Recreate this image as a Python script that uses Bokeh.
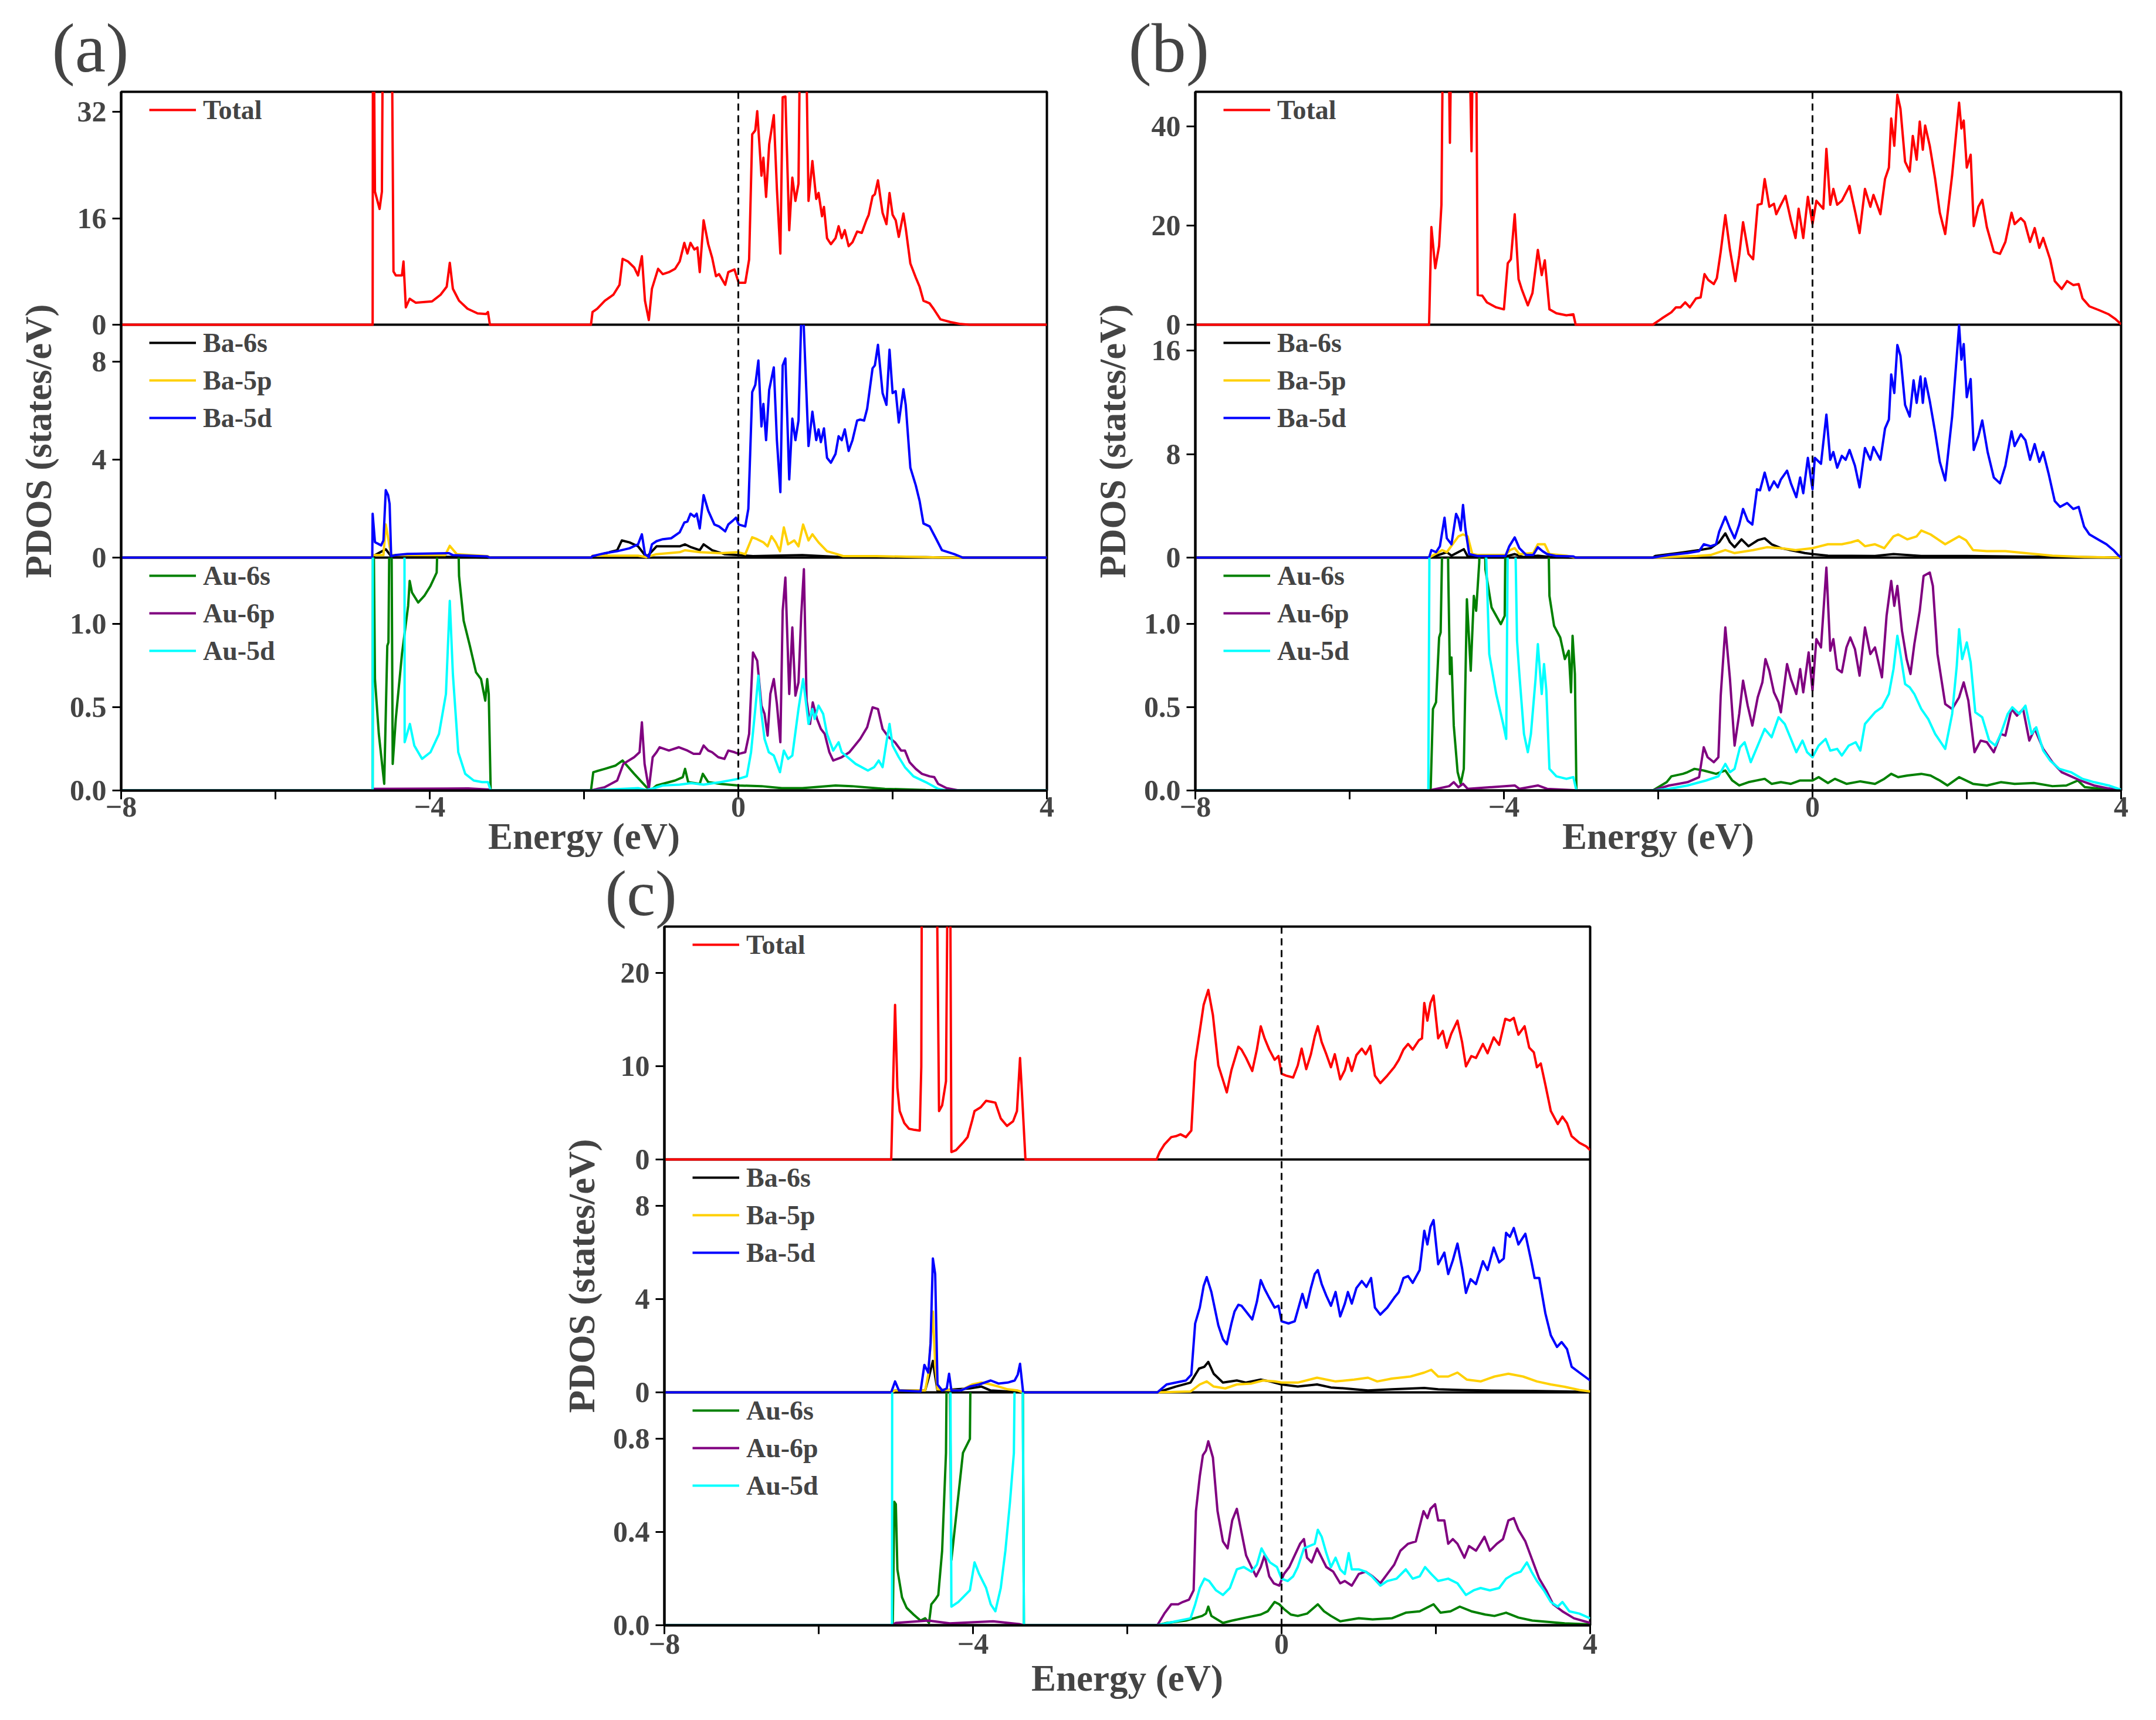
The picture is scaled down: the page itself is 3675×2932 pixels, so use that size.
import numpy as np
from bokeh.plotting import figure
from bokeh.models import Range1d, FixedTicker, Span, Legend, LegendItem
from bokeh.layouts import column, row
from bokeh.embed import file_html
from bokeh.resources import INLINE

# ---------------- data (energy in eV, PDOS in states/eV) ----------------
# panel (a)
A_TOTAL = [(-8,0),(-4.74,0),(-4.735,60),(-4.71,20),(-4.65,17.4),(-4.62,20),(-4.60,60),(-4.50,60),(-4.47,8.0),(-4.44,7.4),
 (-4.36,7.4),(-4.34,9.5),(-4.31,2.6),(-4.26,3.9),(-4.18,3.3),(-3.97,3.5),(-3.86,4.5),(-3.78,5.7),(-3.74,9.3),(-3.70,5.4),
 (-3.62,3.6),(-3.51,2.4),(-3.38,1.7),(-3.27,1.6),(-3.245,1.9),(-3.22,0),(-1.91,0),(-1.89,1.9),(-1.83,2.4),(-1.73,3.6),
 (-1.62,4.5),(-1.54,6.0),(-1.50,9.9),(-1.43,9.5),(-1.35,8.6),(-1.30,7.4),(-1.25,10.3),(-1.21,3.6),(-1.16,0.7),(-1.12,5.4),
 (-1.04,8.4),(-0.98,7.6),(-0.90,7.9),(-0.82,8.4),(-0.76,9.5),(-0.70,12.3),(-0.66,10.7),(-0.62,12.3),(-0.57,11.3),(-0.53,11.6),
 (-0.50,7.9),(-0.45,15.7),(-0.39,12.1),(-0.34,10.1),(-0.29,7.3),(-0.25,7.6),(-0.17,6.0),(-0.13,7.9),(-0.05,8.3),(0.005,6.3),
 (0.09,6.3),(0.14,9.8),(0.18,28.6),(0.22,29.2),(0.245,32.1),(0.30,22.4),(0.325,25.1),(0.36,19.2),(0.40,27.1),(0.46,31.5),
 (0.50,20.4),(0.545,10.7),(0.575,34.2),(0.61,34.3),(0.66,14.2),(0.70,22.1),(0.74,18.6),(0.78,21.2),(0.815,60),(0.855,60),
 (0.91,18.6),(0.96,24.6),(1.01,18.9),(1.04,19.8),(1.085,16.3),(1.11,17.7),(1.15,13.0),(1.20,12.1),(1.26,13.0),(1.30,14.8),
 (1.34,13.0),(1.38,14.2),(1.43,11.8),(1.48,12.4),(1.54,14.0),(1.60,13.8),(1.66,15.7),(1.69,16.5),(1.74,19.3),(1.77,19.6),
 (1.81,21.7),(1.87,16.8),(1.92,15.1),(1.96,19.8),(2.00,16.5),(2.04,15.7),(2.08,13.2),(2.14,16.7),(2.17,14.5),(2.23,9.2),
 (2.30,7.1),(2.35,5.7),(2.40,3.6),(2.48,3.2),(2.53,2.4),(2.62,0.8),(2.75,0.4),(2.88,0.1),(3.0,0),(4.0,0)]
A_BA6S = [(-8,0),(-4.745,0),(-4.71,0.1),(-4.57,0.34),(-4.50,0.05),(-3.5,0.02),(-3.22,0),(-1.91,0),(-1.89,0.02),(-1.67,0.22),
 (-1.57,0.3),(-1.51,0.7),(-1.41,0.62),(-1.30,0.46),(-1.19,0.02),(-1.06,0.46),(-0.98,0.46),(-0.76,0.46),(-0.69,0.54),(-0.61,0.42),
 (-0.50,0.3),(-0.45,0.54),(-0.34,0.3),(-0.18,0.14),(0,0.1),(0.19,0.06),(0.83,0.1),(1.36,0.02),(2.43,0.02),(2.7,0),(4,0)]
A_BA5P = [(-8,0),(-4.745,0),(-4.74,0.1),(-4.60,0.1),(-4.57,1.35),(-4.50,0.1),(-4.40,0.1),(-3.80,0.1),(-3.74,0.48),(-3.65,0.14),
 (-3.25,0.06),(-3.22,0),(-1.91,0),(-1.89,0.08),(-1.30,0.08),(-1.19,0.02),(-1.06,0.14),(-0.76,0.22),(-0.69,0.3),(-0.50,0.22),
 (-0.23,0.18),(0,0.22),(0.09,0.14),(0.18,0.83),(0.245,0.75),(0.325,0.62),(0.38,0.46),(0.43,0.87),(0.485,0.62),(0.54,0.26),
 (0.59,1.23),(0.645,0.54),(0.725,0.7),(0.78,0.46),(0.84,1.35),(0.91,0.7),(0.96,0.95),(1.04,0.62),(1.15,0.26),(1.28,0.14),
 (1.36,0.06),(1.79,0.06),(2.43,0.02),(2.70,0),(4,0)]
A_BA5D = [(-8,0),(-4.745,0),(-4.74,1.79),(-4.71,0.63),(-4.63,0.5),(-4.60,0.7),(-4.57,2.75),(-4.54,2.55),(-4.52,2.19),(-4.50,0.06),
 (-4.45,0.1),(-4.29,0.15),(-3.75,0.18),(-3.70,0.1),(-3.26,0.05),(-3.22,0),(-1.91,0),(-1.89,0.06),(-1.73,0.18),(-1.57,0.26),
 (-1.41,0.38),(-1.30,0.54),(-1.25,0.95),(-1.21,0.14),(-1.16,0.02),(-1.12,0.54),(-1.06,0.67),(-0.98,0.75),(-0.87,0.79),(-0.76,1.03),
 (-0.70,1.43),(-0.66,1.47),(-0.62,1.79),(-0.57,1.67),(-0.54,1.79),(-0.50,1.19),(-0.45,2.55),(-0.39,1.91),(-0.31,1.35),(-0.25,1.27),
 (-0.17,1.07),(-0.13,1.35),(-0.07,1.51),(-0.03,1.63),(0.005,1.35),(0.09,1.27),(0.13,1.99),(0.18,6.75),(0.22,7.04),(0.26,8.04),
 (0.30,5.35),(0.325,6.27),(0.36,4.79),(0.40,6.84),(0.46,7.76),(0.50,4.79),(0.545,2.67),(0.575,7.84),(0.61,8.12),(0.66,3.19),
 (0.70,5.67),(0.74,4.79),(0.78,5.59),(0.815,9.7),(0.845,9.7),(0.91,4.55),(0.96,5.95),(1.01,4.79),(1.04,5.23),(1.07,4.71),
 (1.11,5.27),(1.15,4.07),(1.20,3.87),(1.26,4.23),(1.30,4.95),(1.34,4.79),(1.38,5.23),(1.43,4.35),(1.48,4.79),(1.54,5.59),
 (1.58,5.63),(1.63,5.59),(1.67,6.07),(1.74,7.72),(1.77,7.84),(1.81,8.68),(1.87,6.71),(1.92,6.23),(1.96,8.48),(2.00,6.71),
 (2.04,6.79),(2.08,5.51),(2.14,6.87),(2.17,6.23),(2.23,3.67),(2.30,2.95),(2.35,2.31),(2.40,1.39),(2.48,1.27),(2.56,0.79),
 (2.64,0.3),(2.80,0.14),(2.91,0),(4,0)]
A_AU6S = [(-8,0),(-4.74,0),(-4.735,2),(-4.71,0.67),(-4.66,0.34),(-4.59,0.04),(-4.55,0.87),(-4.535,0.89),(-4.515,2),(-4.50,2),
 (-4.48,0.16),(-4.44,0.43),(-4.36,0.82),(-4.28,1.11),(-4.26,1.26),(-4.23,1.19),(-4.15,1.13),(-4.07,1.17),(-3.99,1.23),(-3.91,1.31),
 (-3.87,2),(-3.65,2),(-3.62,1.29),(-3.56,1.02),(-3.48,0.87),(-3.40,0.71),(-3.335,0.67),(-3.28,0.54),(-3.255,0.67),(-3.235,0.58),
 (-3.21,0),(-1.91,0),(-1.88,0.11),(-1.73,0.13),(-1.59,0.15),(-1.50,0.18),(-1.35,0.1),(-1.19,0.02),(-1.14,0.0),(-1.06,0.03),
 (-0.82,0.06),(-0.72,0.08),(-0.69,0.13),(-0.65,0.05),(-0.50,0.04),(-0.46,0.1),(-0.39,0.05),(-0.23,0.04),(0,0.03),(0.30,0.026),
 (0.565,0.014),(0.83,0.014),(1.26,0.03),(1.47,0.026),(1.90,0.01),(2.43,0.003),(4,0)]
A_AU6P = [(-8,0),(-4.74,0),(-4.73,0.01),(-3.5,0.012),(-3.22,0.005),(-3.2,0),(-1.91,0),(-1.73,0.02),(-1.57,0.06),(-1.49,0.16),
 (-1.35,0.2),(-1.28,0.23),(-1.25,0.41),(-1.215,0.16),(-1.16,0.01),(-1.11,0.2),(-1.06,0.23),(-1.02,0.26),(-0.90,0.24),(-0.77,0.26),
 (-0.66,0.24),(-0.58,0.22),(-0.50,0.22),(-0.45,0.27),(-0.39,0.24),(-0.34,0.23),(-0.26,0.2),(-0.18,0.19),(-0.13,0.24),(-0.05,0.23),
 (0.005,0.22),(0.09,0.23),(0.14,0.34),(0.19,0.83),(0.245,0.78),(0.30,0.51),(0.34,0.46),(0.38,0.33),(0.415,0.58),(0.46,0.67),
 (0.50,0.52),(0.545,0.29),(0.575,1.08),(0.61,1.28),(0.66,0.58),(0.70,0.98),(0.74,0.57),(0.78,0.65),(0.815,1.05),(0.85,1.33),
 (0.885,0.54),(0.93,0.4),(0.965,0.53),(1.02,0.43),(1.07,0.37),(1.12,0.34),(1.18,0.23),(1.23,0.18),(1.34,0.2),(1.44,0.23),
 (1.58,0.31),(1.67,0.38),(1.74,0.5),(1.81,0.49),(1.87,0.37),(1.95,0.32),(2.03,0.29),(2.11,0.24),(2.16,0.24),(2.22,0.17),
 (2.30,0.13),(2.38,0.1),(2.48,0.085),(2.54,0.08),(2.59,0.04),(2.70,0.014),(2.86,0),(4,0)]
A_AU5D = [(-8,0),(-4.74,0),(-4.735,3),(-4.33,3),(-4.325,0.29),(-4.257,0.4),(-4.20,0.27),(-4.10,0.19),(-3.99,0.23),(-3.88,0.34),
 (-3.79,0.58),(-3.74,1.14),(-3.70,0.7),(-3.63,0.23),(-3.54,0.1),(-3.43,0.06),(-3.32,0.05),(-3.245,0.05),(-3.21,0),(-1.91,0),
 (-1.57,0.008),(-1.30,0.014),(-1.19,0.003),(-1.09,0.014),(-0.98,0.03),(-0.76,0.035),(-0.61,0.044),(-0.45,0.035),(-0.23,0.05),
 (0,0.07),(0.11,0.085),(0.165,0.23),(0.22,0.49),(0.26,0.69),(0.30,0.46),(0.34,0.31),(0.395,0.23),(0.46,0.21),(0.54,0.11),
 (0.59,0.24),(0.645,0.19),(0.70,0.21),(0.78,0.49),(0.84,0.67),(0.91,0.4),(0.96,0.49),(0.99,0.43),(1.04,0.51),(1.10,0.46),
 (1.15,0.34),(1.23,0.24),(1.30,0.29),(1.34,0.23),(1.52,0.16),(1.68,0.12),(1.76,0.14),(1.82,0.18),(1.87,0.14),(1.92,0.29),
 (1.96,0.4),(2.0,0.27),(2.08,0.2),(2.16,0.14),(2.27,0.085),(2.43,0.05),(2.59,0.01),(2.70,0),(4,0)]

# panel (b)
B_TOTAL = [(-8,0),(-4.97,0),(-4.94,19.7),(-4.89,11.4),(-4.84,15.9),(-4.81,24.2),(-4.79,60),(-4.72,60),(-4.70,36.7),(-4.68,60),
 (-4.45,60),(-4.42,35),(-4.40,60),(-4.36,60),(-4.34,6.0),(-4.28,5.85),(-4.22,4.5),(-4.10,3.5),(-4.00,3.1),(-3.95,12.4),
 (-3.91,13.2),(-3.86,22.3),(-3.81,9.2),(-3.77,7.2),(-3.69,3.9),(-3.63,6.4),(-3.56,15.1),(-3.51,10.0),(-3.47,13.0),(-3.41,3.1),
 (-3.32,2.3),(-3.19,1.9),(-3.10,2.1),(-3.07,0),(-2.07,0),(-1.95,1.3),(-1.83,2.5),(-1.77,3.5),(-1.71,3.5),(-1.65,4.5),
 (-1.59,3.5),(-1.51,5.3),(-1.45,5.5),(-1.40,10.2),(-1.35,9.0),(-1.28,8.2),(-1.24,9.4),(-1.19,14.7),(-1.13,22.1),(-1.07,15.1),
 (-1.00,8.8),(-0.95,14.0),(-0.90,20.7),(-0.83,14.3),(-0.77,13.2),(-0.71,24.2),(-0.66,24.4),(-0.62,29.4),(-0.56,23.8),(-0.50,24.4),
 (-0.47,22.3),(-0.41,24.2),(-0.35,26.0),(-0.28,21.1),(-0.22,17.5),(-0.18,23.4),(-0.12,17.5),(-0.06,25.8),(0,20.3),(0.05,25.0),
 (0.14,23.4),(0.18,35.5),(0.23,24.2),(0.27,27.4),(0.32,24.2),(0.38,25.0),(0.42,26.2),(0.48,28.0),(0.56,22.3),(0.61,18.5),
 (0.68,27.4),(0.75,23.8),(0.79,26.2),(0.88,22.3),(0.94,29.4),(0.99,31.7),(1.02,41.6),(1.06,36.1),(1.10,46.4),(1.14,43.6),
 (1.20,32.9),(1.26,30.9),(1.30,38.1),(1.35,33.3),(1.39,41.0),(1.43,35.3),(1.46,40.2),(1.52,36.1),(1.59,29.4),(1.65,22.6),
 (1.72,18.3),(1.81,30.2),(1.90,44.8),(1.93,39.6),(1.96,41.2),(2.0,31.7),(2.05,34.3),(2.09,19.9),(2.15,23.8),(2.20,25.2),
 (2.26,19.7),(2.35,14.7),(2.43,14.3),(2.50,16.7),(2.58,22.6),(2.62,20.3),(2.70,21.5),(2.75,20.7),(2.82,16.7),(2.88,19.5),
 (2.94,15.5),(2.99,17.5),(3.08,13.2),(3.14,8.8),(3.23,7.2),(3.30,8.8),(3.38,8.0),(3.45,8.2),(3.50,5.3),(3.59,3.7),
 (3.72,2.9),(3.84,2.1),(3.93,1.1),(4.0,0.1)]
B_BA6S = [(-8,0),(-4.97,0),(-4.90,0.1),(-4.74,0.42),(-4.68,0.15),(-4.52,0.65),(-4.47,0.1),(-4.0,0.05),(-3.86,0.27),(-3.75,0.05),
 (-3.56,0.15),(-3.40,0.05),(-3.07,0),(-2.07,0),(-2.04,0.12),(-1.74,0.35),(-1.47,0.58),(-1.32,0.73),(-1.21,1.18),(-1.13,1.87),
 (-1.07,1.18),(-1.01,0.8),(-0.92,1.41),(-0.83,0.88),(-0.71,1.34),(-0.62,1.49),(-0.53,1.03),(-0.41,0.73),(-0.22,0.5),(-0.10,0.35),
 (0,0.27),(0.2,0.15),(0.81,0.12),(1.05,0.27),(1.41,0.12),(2.0,0.12),(3.23,0.05),(4.0,0)]
B_BA5P = [(-8,0),(-4.97,0),(-4.80,0.58),(-4.74,0.42),(-4.59,1.64),(-4.53,1.79),(-4.47,1.64),(-4.41,0.27),(-4.34,0.2),(-3.98,0.2),
 (-3.92,0.58),(-3.86,0.73),(-3.80,0.27),(-3.62,0.35),(-3.56,1.03),(-3.47,1.03),(-3.41,0.27),(-3.19,0.15),(-3.07,0),(-2.07,0),
 (-1.86,0.05),(-1.50,0.12),(-1.32,0.2),(-1.13,0.58),(-1.01,0.35),(-0.77,0.58),(-0.59,0.8),(-0.41,0.73),(-0.22,0.58),(0,0.73),
 (0.2,1.03),(0.38,1.03),(0.50,1.18),(0.59,1.34),(0.68,0.88),(0.81,1.03),(0.93,0.73),(1.05,1.64),(1.11,1.79),(1.23,1.41),
 (1.35,1.64),(1.41,2.09),(1.53,1.79),(1.72,1.03),(1.90,1.64),(1.99,1.34),(2.08,0.58),(2.26,0.5),(2.50,0.5),(2.75,0.35),
 (3.11,0.15),(3.53,0.05),(4.0,0)]
B_BA5D = [(-8,0),(-4.97,0),(-4.94,0.58),(-4.88,0.42),(-4.83,0.88),(-4.77,3.08),(-4.74,1.49),(-4.68,1.03),(-4.62,3.38),(-4.59,3.0),
 (-4.56,2.1),(-4.53,4.07),(-4.50,2.25),(-4.45,0.27),(-4.34,0.12),(-3.98,0.12),(-3.93,0.88),(-3.86,1.56),(-3.80,0.73),(-3.71,0.2),
 (-3.62,0.2),(-3.56,0.8),(-3.50,0.5),(-3.44,0.27),(-3.32,0.12),(-3.10,0.09),(-3.07,0),(-2.07,0),(-1.86,0.2),(-1.62,0.35),
 (-1.47,0.5),(-1.41,1.03),(-1.32,0.88),(-1.25,1.03),(-1.21,2.0),(-1.13,3.16),(-1.07,2.25),(-1.01,1.49),(-0.95,2.55),(-0.90,3.76),
 (-0.84,2.85),(-0.78,2.55),(-0.72,5.28),(-0.68,5.2),(-0.62,6.57),(-0.56,5.2),(-0.50,5.89),(-0.45,5.43),(-0.41,6.04),(-0.33,6.72),
 (-0.28,5.74),(-0.21,4.67),(-0.16,6.19),(-0.12,4.98),(-0.06,7.71),(0,5.28),(0.03,7.71),(0.11,7.25),(0.18,11.05),(0.23,7.56),
 (0.27,8.16),(0.32,6.95),(0.38,7.86),(0.43,7.56),(0.48,8.32),(0.55,7.1),(0.61,5.43),(0.68,8.47),(0.75,7.56),(0.79,8.54),
 (0.88,7.56),(0.94,9.98),(0.99,10.67),(1.02,14.16),(1.06,12.72),(1.10,16.43),(1.14,15.6),(1.20,11.8),(1.26,10.9),(1.31,13.7),
 (1.35,11.96),(1.40,14.0),(1.43,11.96),(1.46,13.85),(1.52,12.1),(1.59,9.68),(1.65,7.4),(1.72,5.96),(1.81,10.9),(1.90,17.95),
 (1.93,15.3),(1.96,16.5),(2.0,12.4),(2.05,13.8),(2.09,8.32),(2.15,9.38),(2.20,10.6),(2.27,8.16),(2.35,6.19),(2.43,5.74),
 (2.50,7.1),(2.58,9.76),(2.62,8.62),(2.70,9.53),(2.76,9.07),(2.82,7.56),(2.88,8.77),(2.94,7.4),(2.99,8.16),(3.06,6.5),
 (3.14,4.37),(3.21,3.92),(3.30,4.22),(3.38,3.76),(3.45,3.92),(3.52,2.4),(3.59,1.79),(3.72,1.34),(3.81,1.03),(3.90,0.58),
 (3.96,0.2),(4.0,0)]
B_AU6S = [(-8,0),(-4.95,0),(-4.92,0.49),(-4.88,0.53),(-4.84,0.92),(-4.82,0.95),(-4.78,2),(-4.74,2),(-4.72,1.26),(-4.70,0.70),
 (-4.68,0.80),(-4.65,0.39),(-4.60,0.11),(-4.56,0.04),(-4.52,0.13),(-4.48,1.15),(-4.43,0.72),(-4.39,1.17),(-4.36,1.08),(-4.32,1.37),
 (-4.29,2),(-4.26,2),(-4.24,1.33),(-4.16,1.10),(-4.04,1.0),(-3.99,1.05),(-3.97,2),(-3.44,2),(-3.41,1.17),(-3.35,0.99),
 (-3.27,0.92),(-3.21,0.79),(-3.16,0.84),(-3.13,0.59),(-3.11,0.93),(-3.08,0.70),(-3.06,0),(-2.07,0),(-1.89,0.05),(-1.83,0.085),
 (-1.68,0.1),(-1.62,0.11),(-1.53,0.13),(-1.41,0.12),(-1.25,0.1),(-1.13,0.12),(-1.04,0.06),(-0.95,0.03),(-0.83,0.05),(-0.62,0.07),
 (-0.53,0.04),(-0.41,0.05),(-0.28,0.04),(-0.16,0.06),(0,0.06),(0.08,0.08),(0.2,0.045),(0.29,0.07),(0.44,0.04),(0.62,0.055),
 (0.81,0.04),(0.93,0.07),(1.02,0.1),(1.11,0.08),(1.23,0.09),(1.41,0.1),(1.53,0.09),(1.65,0.06),(1.75,0.03),(1.90,0.08),
 (2.08,0.04),(2.26,0.03),(2.44,0.05),(2.62,0.04),(2.87,0.045),(3.11,0.026),(3.29,0.03),(3.44,0.06),(3.53,0.02),(3.78,0.008),
 (4.0,0)]
B_AU6P = [(-8,0),(-4.97,0),(-4.71,0.026),(-4.65,0.05),(-4.59,0.02),(-4.53,0.04),(-4.47,0.01),(-3.86,0.03),(-3.80,0.01),(-3.56,0.03),
 (-3.44,0.01),(-3.10,0.002),(-3.07,0),(-2.07,0),(-1.86,0.03),(-1.74,0.04),(-1.62,0.05),(-1.47,0.08),(-1.41,0.26),(-1.36,0.2),
 (-1.28,0.17),(-1.22,0.2),(-1.19,0.57),(-1.13,0.98),(-1.07,0.67),(-1.01,0.27),(-0.95,0.46),(-0.90,0.66),(-0.84,0.51),(-0.78,0.39),
 (-0.71,0.56),(-0.65,0.65),(-0.61,0.79),(-0.56,0.72),(-0.50,0.59),(-0.44,0.53),(-0.41,0.47),(-0.33,0.76),(-0.28,0.67),(-0.21,0.58),
 (-0.16,0.73),(-0.12,0.59),(-0.05,0.83),(0,0.60),(0.05,0.91),(0.11,0.86),(0.18,1.34),(0.23,0.84),(0.27,0.91),(0.32,0.73),
 (0.38,0.71),(0.44,0.86),(0.49,0.92),(0.55,0.85),(0.61,0.69),(0.68,0.98),(0.75,0.82),(0.81,0.86),(0.90,0.68),(0.96,1.05),
 (1.02,1.26),(1.06,1.11),(1.10,1.23),(1.16,0.96),(1.22,0.79),(1.27,0.70),(1.32,0.88),(1.39,1.08),(1.44,1.29),(1.52,1.31),
 (1.56,1.23),(1.62,0.82),(1.72,0.52),(1.81,0.49),(1.90,0.56),(1.96,0.65),(2.02,0.54),(2.10,0.23),(2.18,0.30),(2.26,0.29),
 (2.35,0.23),(2.44,0.34),(2.50,0.33),(2.58,0.49),(2.65,0.45),(2.73,0.49),(2.81,0.30),(2.88,0.37),(2.99,0.25),(3.11,0.17),
 (3.23,0.11),(3.35,0.085),(3.47,0.06),(3.65,0.03),(3.84,0.012),(4.0,0)]
B_AU5D = [(-8,0),(-4.98,0),(-4.96,2),(-4.27,2),(-4.19,0.82),(-4.10,0.58),(-4.01,0.40),(-3.97,0.31),(-3.95,1.5),(-3.90,2),
 (-3.87,2),(-3.83,0.9),(-3.80,0.70),(-3.74,0.34),(-3.69,0.23),(-3.65,0.34),(-3.59,0.67),(-3.56,0.88),(-3.51,0.58),(-3.48,0.76),
 (-3.45,0.6),(-3.41,0.13),(-3.32,0.085),(-3.19,0.07),(-3.10,0.08),(-3.06,0),(-2.07,0),(-1.86,0.01),(-1.62,0.03),(-1.38,0.06),
 (-1.22,0.085),(-1.13,0.16),(-1.07,0.11),(-1.01,0.13),(-0.94,0.26),(-0.88,0.29),(-0.80,0.17),(-0.71,0.27),(-0.62,0.37),(-0.53,0.32),
 (-0.44,0.44),(-0.36,0.40),(-0.28,0.31),(-0.21,0.23),(-0.13,0.30),(-0.07,0.23),(0,0.2),(0.08,0.27),(0.17,0.31),(0.23,0.24),
 (0.32,0.25),(0.38,0.21),(0.47,0.27),(0.56,0.29),(0.62,0.24),(0.68,0.40),(0.81,0.47),(0.90,0.50),(0.99,0.58),(1.05,0.73),
 (1.10,0.93),(1.14,0.82),(1.20,0.64),(1.26,0.62),(1.32,0.58),(1.41,0.49),(1.50,0.43),(1.59,0.34),(1.72,0.25),(1.81,0.46),
 (1.87,0.75),(1.90,0.97),(1.94,0.79),(2.0,0.89),(2.05,0.77),(2.11,0.47),(2.20,0.44),(2.29,0.30),(2.37,0.27),(2.44,0.34),
 (2.53,0.46),(2.59,0.50),(2.68,0.46),(2.76,0.51),(2.84,0.34),(2.90,0.38),(2.99,0.24),(3.08,0.18),(3.20,0.13),(3.35,0.11),
 (3.50,0.07),(3.65,0.05),(3.84,0.03),(4.0,0.005)]

# panel (c)
C_TOTAL = [(-8,0),(-5.06,0),(-5.01,16.6),(-4.98,7.7),(-4.95,5.2),(-4.89,3.9),(-4.83,3.3),(-4.77,3.2),(-4.69,3.1),(-4.67,10),
 (-4.66,40),(-4.48,40),(-4.44,5.2),(-4.40,5.8),(-4.35,8.4),(-4.32,40),(-4.30,40),(-4.28,0.8),(-4.22,1.0),(-4.13,1.8),
 (-4.07,2.4),(-4.01,4.2),(-3.98,5.2),(-3.90,5.6),(-3.83,6.3),(-3.77,6.2),(-3.71,6.1),(-3.64,4.4),(-3.56,3.6),(-3.48,4.1),
 (-3.43,5.2),(-3.39,10.9),(-3.36,6.3),(-3.32,0),(-1.62,0),(-1.58,0.8),(-1.52,1.6),(-1.43,2.4),(-1.37,2.5),(-1.31,2.7),
 (-1.24,2.4),(-1.17,3.1),(-1.12,10.5),(-1.06,13.8),(-1.01,16.6),(-0.95,18.2),(-0.89,15.5),(-0.82,10.1),(-0.77,8.8),(-0.71,7.2),
 (-0.65,9.6),(-0.61,10.7),(-0.56,12.1),(-0.52,11.8),(-0.46,10.9),(-0.38,9.5),(-0.32,11.8),(-0.27,14.3),(-0.22,13.0),(-0.16,11.8),
 (-0.09,10.7),(-0.04,11.1),(0,9.2),(0.06,9.0),(0.15,8.8),(0.21,10.1),(0.26,11.9),(0.32,9.7),(0.38,11.3),(0.43,13.2),
 (0.47,14.3),(0.52,12.6),(0.58,11.3),(0.64,9.9),(0.69,11.3),(0.76,8.6),(0.82,9.6),(0.86,10.9),(0.91,9.5),(0.97,11.2),
 (1.04,11.9),(1.09,11.3),(1.15,12.2),(1.21,9.0),(1.28,8.2),(1.37,9.0),(1.46,9.9),(1.52,10.7),(1.58,11.8),(1.64,12.4),
 (1.70,11.8),(1.78,12.8),(1.82,13.0),(1.85,16.8),(1.89,14.9),(1.93,16.8),(1.97,17.6),(2.03,13.0),(2.09,13.8),(2.14,12.0),
 (2.20,13.5),(2.28,14.9),(2.34,12.6),(2.39,10.0),(2.46,11.1),(2.52,10.9),(2.61,12.4),(2.67,11.4),(2.75,13.1),(2.82,12.3),
 (2.90,15.1),(2.96,14.9),(3.01,15.2),(3.07,13.4),(3.15,14.3),(3.21,12.0),(3.27,11.5),(3.31,9.9),(3.36,10.3),(3.42,8.0),
 (3.49,5.2),(3.58,3.8),(3.64,4.6),(3.70,3.9),(3.76,2.5),(3.86,1.8),(3.95,1.4),(4.0,1.0)]
C_BA6S = [(-8,0),(-5.06,0),(-5.01,0.08),(-4.62,0.08),(-4.57,0.68),(-4.52,1.35),(-4.49,0.68),(-4.46,0.08),(-4.04,0.17),(-3.89,0.25),
 (-3.77,0.08),(-3.35,0),(-1.61,0),(-1.37,0.25),(-1.18,0.42),(-1.07,1.02),(-1.00,1.1),(-0.95,1.31),(-0.88,0.8),(-0.76,0.42),
 (-0.58,0.51),(-0.46,0.42),(-0.27,0.55),(-0.15,0.47),(0,0.34),(0.21,0.25),(0.46,0.34),(0.64,0.21),(0.82,0.17),(1.12,0.08),
 (1.43,0.13),(1.85,0.19),(2.03,0.13),(2.34,0.1),(2.64,0.08),(3.25,0.06),(4.0,0.02)]
C_BA5P = [(-8,0),(-5.06,0),(-5.01,0.08),(-4.62,0.08),(-4.58,0.76),(-4.52,3.47),(-4.49,1.18),(-4.46,0.13),(-4.16,0.08),(-4.01,0.34),
 (-3.89,0.42),(-3.77,0.34),(-3.67,0.25),(-3.55,0.13),(-3.42,0.08),(-3.35,0),(-1.61,0),(-1.18,0.04),(-1.06,0.34),(-0.97,0.47),
 (-0.88,0.25),(-0.73,0.17),(-0.58,0.34),(-0.39,0.38),(-0.24,0.51),(-0.09,0.47),(0,0.42),(0.21,0.42),(0.46,0.63),(0.70,0.47),
 (0.94,0.55),(1.12,0.63),(1.24,0.47),(1.43,0.59),(1.67,0.68),(1.85,0.85),(1.94,0.97),(2.03,0.68),(2.16,0.68),(2.28,0.85),
 (2.40,0.55),(2.58,0.47),(2.76,0.68),(2.94,0.8),(3.13,0.68),(3.31,0.47),(3.49,0.34),(3.67,0.24),(3.86,0.1),(4.0,0.04)]
C_BA5D = [(-8,0),(-5.06,0),(-5.01,0.47),(-4.96,0.08),(-4.68,0.04),(-4.63,1.18),(-4.58,0.85),(-4.55,2.1),(-4.52,5.75),(-4.49,5.08),
 (-4.46,0.34),(-4.40,0.08),(-4.34,0.17),(-4.31,0.8),(-4.28,0.08),(-4.16,0.08),(-4.04,0.25),(-3.92,0.34),(-3.77,0.51),(-3.67,0.38),
 (-3.55,0.42),(-3.46,0.51),(-3.42,0.76),(-3.39,1.23),(-3.35,0),(-1.61,0),(-1.49,0.34),(-1.37,0.42),(-1.24,0.51),(-1.17,0.76),
 (-1.12,2.96),(-1.06,3.64),(-1.01,4.57),(-0.97,4.95),(-0.91,4.31),(-0.82,2.88),(-0.76,2.28),(-0.71,2.07),(-0.65,2.96),(-0.61,3.47),
 (-0.56,3.76),(-0.52,3.72),(-0.46,3.47),(-0.38,3.13),(-0.32,3.89),(-0.27,4.82),(-0.22,4.44),(-0.16,4.06),(-0.09,3.64),(-0.04,3.72),
 (0,3.05),(0.09,2.96),(0.17,3.05),(0.22,3.64),(0.27,4.23),(0.32,3.64),(0.38,4.48),(0.43,5.08),(0.47,5.25),(0.52,4.65),
 (0.58,4.15),(0.64,3.72),(0.70,4.31),(0.76,3.26),(0.82,3.81),(0.86,4.31),(0.91,3.81),(0.97,4.48),(1.04,4.78),(1.10,4.53),
 (1.16,4.91),(1.21,3.64),(1.28,3.34),(1.37,3.64),(1.46,4.06),(1.52,4.31),(1.58,4.91),(1.64,4.99),(1.70,4.7),(1.79,5.25),
 (1.85,6.94),(1.89,6.35),(1.93,7.11),(1.97,7.4),(2.03,5.5),(2.11,6.0),(2.16,5.08),(2.22,5.67),(2.28,6.39),(2.34,5.33),
 (2.39,4.27),(2.45,4.86),(2.52,4.65),(2.61,5.63),(2.67,5.25),(2.75,6.22),(2.82,5.58),(2.88,5.75),(2.91,6.85),(2.96,6.68),
 (3.01,7.06),(3.07,6.35),(3.16,6.81),(3.24,5.58),(3.28,4.91),(3.34,4.91),(3.42,3.38),(3.49,2.45),(3.57,1.95),(3.63,2.16),
 (3.70,1.86),(3.76,1.1),(3.86,0.85),(4.0,0.51)]
C_AU6S = [(-8,0),(-5.04,0),(-5.02,0.53),(-5.00,0.52),(-4.98,0.24),(-4.92,0.12),(-4.86,0.075),(-4.77,0.046),(-4.68,0.02),(-4.62,0.03),
 (-4.57,0.01),(-4.54,0.09),(-4.49,0.11),(-4.45,0.13),(-4.40,0.32),(-4.35,0.74),(-4.33,1.5),(-4.31,1.5),(-4.28,0.28),(-4.13,0.74),
 (-4.04,0.80),(-4.02,1.5),(-3.36,1.5),(-3.34,0),(-1.61,0),(-1.49,0.01),(-1.24,0.02),(-1.03,0.04),(-0.98,0.05),(-0.95,0.08),
 (-0.91,0.04),(-0.76,0.01),(-0.64,0.02),(-0.46,0.033),(-0.27,0.046),(-0.18,0.06),(-0.09,0.1),(-0.03,0.09),(0.03,0.07),(0.12,0.046),
 (0.21,0.04),(0.33,0.05),(0.47,0.09),(0.55,0.06),(0.64,0.04),(0.76,0.017),(1.0,0.03),(1.18,0.025),(1.43,0.03),(1.61,0.054),
 (1.79,0.06),(1.97,0.09),(2.06,0.054),(2.19,0.06),(2.31,0.08),(2.46,0.06),(2.64,0.046),(2.76,0.04),(2.91,0.054),(3.07,0.033),
 (3.25,0.02),(3.43,0.015),(3.67,0.008),(4.0,0.004)]
C_AU6P = [(-8,0),(-5.05,0),(-5.0,0.01),(-4.58,0.02),(-4.3,0.008),(-3.74,0.017),(-3.4,0.005),(-3.34,0),(-1.61,0),(-1.52,0.05),
 (-1.43,0.09),(-1.34,0.09),(-1.28,0.1),(-1.20,0.11),(-1.14,0.15),(-1.11,0.49),(-1.06,0.64),(-1.02,0.73),(-0.98,0.75),(-0.95,0.79),
 (-0.89,0.72),(-0.83,0.49),(-0.76,0.36),(-0.70,0.33),(-0.64,0.45),(-0.58,0.5),(-0.52,0.4),(-0.46,0.30),(-0.39,0.25),(-0.33,0.21),
 (-0.27,0.25),(-0.22,0.30),(-0.16,0.21),(-0.10,0.18),(-0.03,0.17),(0.03,0.22),(0.10,0.25),(0.17,0.30),(0.24,0.35),(0.29,0.37),
 (0.33,0.29),(0.39,0.27),(0.46,0.33),(0.52,0.29),(0.58,0.25),(0.67,0.23),(0.76,0.18),(0.82,0.19),(0.91,0.17),(1.0,0.22),
 (1.09,0.23),(1.18,0.21),(1.28,0.18),(1.37,0.22),(1.46,0.26),(1.54,0.32),(1.64,0.35),(1.74,0.36),(1.84,0.49),(1.89,0.46),
 (1.93,0.50),(1.99,0.52),(2.03,0.45),(2.11,0.45),(2.16,0.35),(2.22,0.37),(2.28,0.35),(2.37,0.29),(2.43,0.34),(2.52,0.32),
 (2.63,0.38),(2.70,0.32),(2.79,0.35),(2.87,0.37),(2.94,0.45),(3.01,0.46),(3.07,0.41),(3.16,0.36),(3.25,0.28),(3.34,0.2),
 (3.43,0.15),(3.52,0.09),(3.64,0.06),(3.79,0.03),(4.0,0.01)]
C_AU5D = [(-8,0),(-5.05,0),(-5.045,2),(-4.305,2),(-4.28,0.08),(-4.19,0.10),(-4.13,0.12),(-4.07,0.14),(-4.04,0.15),(-3.98,0.27),
 (-3.92,0.22),(-3.83,0.16),(-3.77,0.09),(-3.71,0.06),(-3.64,0.16),(-3.58,0.32),(-3.52,0.53),(-3.47,0.74),(-3.43,2),(-3.37,2),
 (-3.34,0),(-1.61,0),(-1.37,0.017),(-1.18,0.03),(-1.12,0.09),(-1.06,0.16),(-1.0,0.2),(-0.94,0.19),(-0.85,0.15),(-0.76,0.13),
 (-0.67,0.16),(-0.58,0.24),(-0.49,0.25),(-0.39,0.23),(-0.32,0.26),(-0.26,0.33),(-0.21,0.30),(-0.15,0.27),(-0.06,0.25),(0,0.2),
 (0.08,0.19),(0.15,0.21),(0.21,0.25),(0.29,0.33),(0.36,0.34),(0.43,0.35),(0.47,0.41),(0.52,0.38),(0.58,0.31),(0.64,0.25),
 (0.70,0.29),(0.76,0.24),(0.82,0.22),(0.87,0.31),(0.91,0.24),(1.0,0.24),(1.09,0.23),(1.17,0.21),(1.28,0.17),(1.37,0.19),
 (1.49,0.2),(1.61,0.24),(1.70,0.2),(1.79,0.21),(1.86,0.25),(1.94,0.22),(2.03,0.19),(2.16,0.2),(2.28,0.18),(2.39,0.13),
 (2.49,0.15),(2.58,0.16),(2.70,0.15),(2.82,0.16),(2.91,0.2),(3.01,0.22),(3.10,0.23),(3.18,0.27),(3.24,0.23),(3.31,0.19),
 (3.40,0.15),(3.49,0.1),(3.58,0.08),(3.64,0.1),(3.73,0.06),(3.86,0.05),(4.0,0.03)]

# axis ranges / ticks per sub-panel (top, middle, bottom)
A_YMAX = (35.0, 9.5, 1.4)
B_YMAX = (47.0, 18.0, 1.4)
C_YMAX = (25.0, 10.0, 1.0)
A_TICKS = ([0, 16, 32], [0, 4, 8], [0.0, 0.5, 1.0])
B_TICKS = ([0, 20, 40], [0, 8, 16], [0.0, 0.5, 1.0])
C_TICKS = ([0, 10, 20], [0, 4, 8], [0.0, 0.4, 0.8])
X_TICKS = [-8, -6, -4, -2, 0, 2, 4]
X_LABELS = {-8: "\u22128", -6: "", -4: "\u22124", -2: "", 0: "0", 2: "", 4: "4"}

NAMES_TOP = ["Total"]
NAMES_MID = ["Ba-6s", "Ba-5p", "Ba-5d"]
NAMES_BOT = ["Au-6s", "Au-6p", "Au-5d"]
COL_TOP = ["#FF0000"]
COL_MID = ["#000000", "#FFD000", "#0000FF"]
COL_BOT = ["#008000", "#800080", "#00FFFF"]

FONT = "Liberation Serif"
FW = 1578
FH = 397


def clip_top(pts, ymax):
    xs, ys = [], []
    prev = None
    for (x, y) in pts:
        if prev is not None:
            x0, y0 = prev
            if (y0 - ymax) * (y - ymax) < 0:
                t = (ymax - y0) / (y - y0)
                xs.append(x0 + t * (x - x0))
                ys.append(ymax)
                if y > ymax:
                    xs.append(np.nan)
                    ys.append(np.nan)
        if y <= ymax:
            xs.append(x)
            ys.append(y)
        prev = (x, y)
    return np.array(xs, dtype=float), np.array(ys, dtype=float)


def fmt(v):
    if isinstance(v, float):
        return "%.1f" % v
    return str(v)


def make_panel(letter, top, mid, bot, ymax, ticks, bl, br, bt, bb, lab_dx, lab_standoff, lab_size,
               x_lab_so, x_axlab_so):
    p = figure(frame_width=FW, frame_height=3 * FH, x_range=Range1d(-8, 4), y_range=Range1d(0, 3),
               output_backend="svg", toolbar_location=None,
               min_border_left=bl, min_border_right=br, min_border_top=bt, min_border_bottom=bb,
               title=letter)
    p.extra_y_ranges = {
        "top": Range1d(-2 * ymax[0], ymax[0]),
        "mid": Range1d(-ymax[1], 2 * ymax[1]),
        "bot": Range1d(0, 3 * ymax[2]),
    }
    p.title.text_font = FONT
    p.title.text_font_style = "normal"
    p.title.text_font_size = lab_size
    p.title.align = "left"
    p.title.offset = lab_dx
    p.title.standoff = lab_standoff
    p.title.vertical_align = "bottom"

    p.grid.visible = False
    p.background_fill_color = "white"
    p.border_fill_color = "white"
    p.outline_line_color = "black"
    p.outline_line_width = 4

    # sub-panel separators
    for loc in (1, 2):
        p.add_layout(Span(location=loc, dimension="width", line_color="black", line_width=4, level="underlay"))

    # y ticks (positions in sub-panel units)
    pos, labels = [], {}
    for k, (tk, ym) in enumerate(zip((ticks[2], ticks[1], ticks[0]), (ymax[2], ymax[1], ymax[0]))):
        for t in tk:
            v = k + t / ym
            pos.append(v)
            labels[v] = fmt(t)
    p.yaxis.ticker = FixedTicker(ticks=pos)
    p.yaxis.major_label_overrides = labels
    p.yaxis.axis_label = "PDOS (states/eV)"
    p.xaxis.ticker = FixedTicker(ticks=X_TICKS)
    p.xaxis.major_label_overrides = X_LABELS
    p.xaxis.axis_label = "Energy (eV)"
    for ax in (p.xaxis[0], p.yaxis[0]):
        ax.axis_line_width = 4
        ax.major_tick_line_width = 3
        ax.major_tick_in = 0
        ax.major_tick_out = 15
        ax.minor_tick_line_color = None
        ax.major_label_text_font = FONT
        ax.major_label_text_font_style = "bold"
        ax.major_label_text_font_size = "50px"
        ax.axis_label_text_font = FONT
        ax.axis_label_text_font_style = "bold"
        ax.axis_label_text_font_size = "63px"
    p.yaxis.major_label_standoff = 10
    p.yaxis.axis_label_standoff = 15
    p.xaxis.major_label_standoff = x_lab_so
    p.xaxis.axis_label_standoff = x_axlab_so

    groups = [
        ("top", top, NAMES_TOP, COL_TOP, ymax[0] * 10, 3 * FH),
        ("mid", mid, NAMES_MID, COL_MID, ymax[1], 2 * FH),
        ("bot", bot, NAMES_BOT, COL_BOT, ymax[2], FH),
    ]
    for rname, series, names, cols, clipv, sub_top in groups:
        items = []
        for pts, nm, c in zip(series, names, cols):
            xs, ys = clip_top(pts, clipv)
            r = p.line(xs, ys, y_range_name=rname, line_color=c, line_width=4, line_join="round")
            items.append(LegendItem(label=nm, renderers=[r]))
        n = len(items)
        leg_h = n * 60 + (n - 1) * 4
        leg = Legend(items=items, location=(48, sub_top - 1 - leg_h), orientation="vertical",
                     glyph_width=80, glyph_height=60, label_height=60, label_standoff=12,
                     spacing=4, padding=0, margin=0, border_line_color=None,
                     background_fill_alpha=0, label_text_font=FONT,
                     label_text_font_style="bold", label_text_font_size="46px")
        p.add_layout(leg)

    p.add_layout(Span(location=0, dimension="height", line_color="black", line_width=3, line_dash="12 8"))
    return p


fa = make_panel("(a)", [A_TOTAL], [A_BA6S, A_BA5P, A_BA5D], [A_AU6S, A_AU6P, A_AU5D],
                A_YMAX, A_TICKS, 206, 52, 156, 114, -118, 18, "118px", -4, -4)
fb = make_panel("(b)", [B_TOTAL], [B_BA6S, B_BA5P, B_BA5D], [B_AU6S, B_AU6P, B_AU5D],
                B_YMAX, B_TICKS, 201, 30, 156, 114, -114, 18, "118px", -4, -4)
fc = make_panel("(c)", [C_TOTAL], [C_BA6S, C_BA5P, C_BA5D], [C_AU6S, C_AU6P, C_AU5D],
                C_YMAX, C_TICKS, 1132, 40, 90, 132, -101, -8, "110px", 0, 4)

layout = column(row(fa, fb), fc)
open("out.html", "w").write(file_html(layout, INLINE))
